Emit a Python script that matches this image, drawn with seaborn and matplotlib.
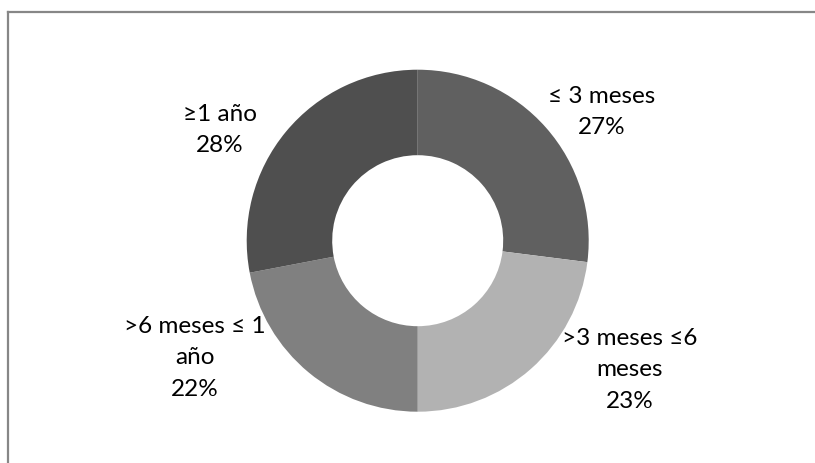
import matplotlib
matplotlib.use("Agg")
import matplotlib.pyplot as plt
from matplotlib.lines import Line2D
import seaborn as sns

# Time-range categories and their share of cases (%)
categories = ["≤ 3 meses", ">3 meses ≤6\nmeses", ">6 meses ≤ 1\naño", "≥1 año"]
shares = [27, 23, 22, 28]
colors = ["#606060", "#b2b2b2", "#808080", "#4f4f4f"]

sns.set_style("white")
plt.rcParams["font.family"] = ["Lato", "DejaVu Sans"]

W, H = 815, 464
fig = plt.figure(figsize=(W / 100, H / 100), dpi=100)

# frame lines along the left and top of the chart area
fx, fy = 7.5 / W, 1 - 12.5 / H
for xs, ys in [([fx, fx], [-0.1, fy]), ([fx, 1.1], [fy, fy])]:
    fig.add_artist(Line2D(xs, ys, transform=fig.transFigure,
                          color="#878787", linewidth=1.6,
                          solid_capstyle="projecting"))

cx, cy, r = 417.7, 241.7, 171.0
ax = fig.add_axes([(cx - r) / W, (H - cy - r) / H, 2 * r / W, 2 * r / H])
ax.pie(shares, colors=colors, startangle=90, counterclock=False,
       radius=1.0, wedgeprops=dict(width=0.5, edgecolor="none"))
ax.set_xlim(-1, 1)
ax.set_ylim(-1, 1)
ax.set_aspect("equal")
ax.axis("off")

# label anchor points (pixel centres of each label block)
label_px = [(602, 112), (630, 370), (195, 358), (220, 130)]
for cat, val, (px, py) in zip(categories, shares, label_px):
    ax.text((px - cx) / r, (cy - py) / r, f"{cat}\n{val}%",
            ha="center", va="center", fontsize=17.5, color="#000000",
            linespacing=1.6, clip_on=False)

fig.savefig("out.png", dpi=100, facecolor="white")
